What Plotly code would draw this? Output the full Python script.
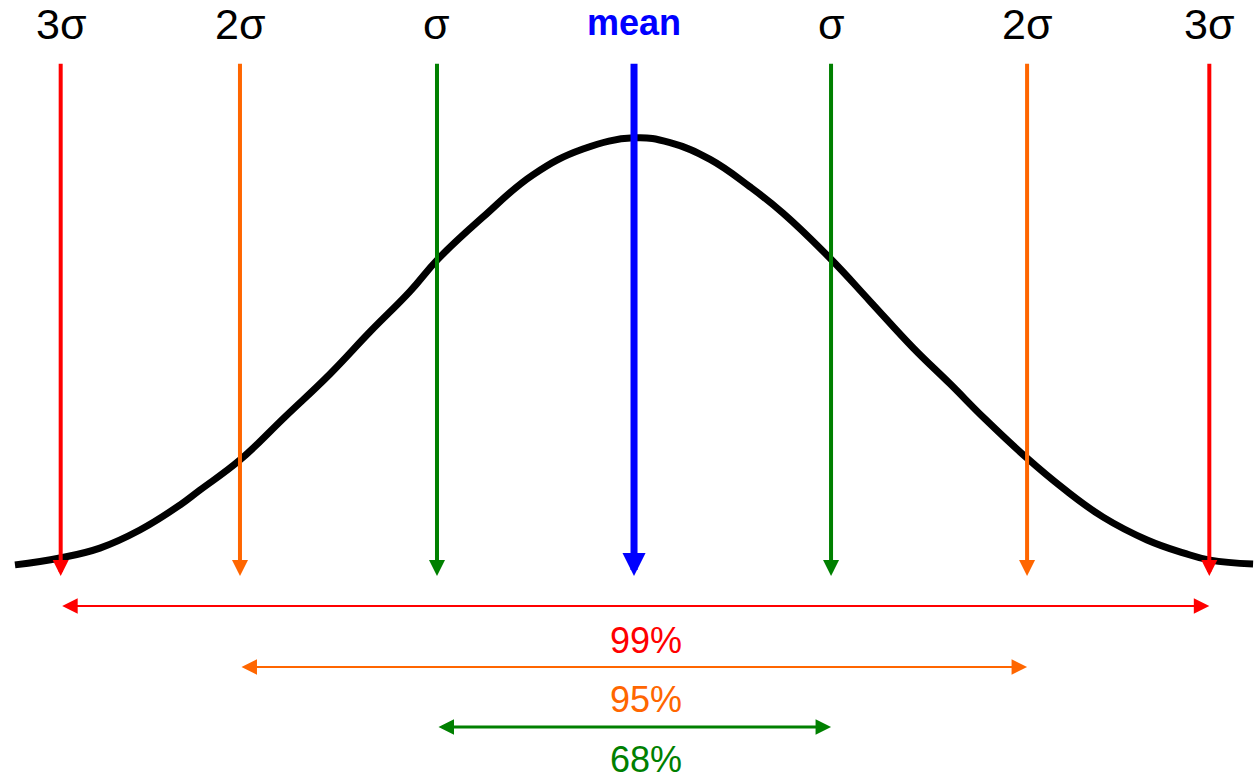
import plotly.graph_objects as go

# Bell curve (x in sigma units, y = relative height, peak ~1)
curve_x = [-3.142, -2.914, -2.711, -2.508, -2.305, -2.203, -2.0, -1.772, -1.543, -1.340,
           -1.137, -0.995, -0.766, -0.513, -0.259, 0.0, 0.183, 0.386, 0.589, 0.756,
           0.995, 1.198, 1.416, 1.604, 1.782, 1.995, 2.178, 2.381, 2.604, 2.787,
           2.924, 3.142]
curve_y = [0.005, 0.021, 0.044, 0.086, 0.144, 0.179, 0.249, 0.349, 0.449, 0.547,
           0.641, 0.716, 0.814, 0.912, 0.972, 0.998, 0.987, 0.948, 0.884, 0.823,
           0.718, 0.618, 0.510, 0.426, 0.344, 0.253, 0.183, 0.116, 0.063, 0.033,
           0.016, 0.007]

# Vertical marker arrows
marker_x = [-2.91, -2.0, -1.0, 0.0, 1.0, 1.995, 2.92]
marker_labels = ["3σ", "2σ", "σ", "mean", "σ", "2σ", "3σ"]
marker_colors = ["#FF0000", "#FF6600", "#008000", "#0000FF", "#008000", "#FF6600", "#FF0000"]

# Coverage ranges
range_left = [-2.91, -2.0, -1.0]
range_right = [2.92, 1.995, 1.0]
range_labels = ["99%", "95%", "68%"]
range_colors = ["#FF0000", "#FF6600", "#008000"]

FONT = "Liberation Sans, Arial, Helvetica, sans-serif"

fig = go.Figure()
fig.add_trace(go.Scatter(x=curve_x, y=curve_y, mode="lines",
                         line=dict(color="black", width=7, shape="spline", smoothing=1.2),
                         hoverinfo="skip", showlegend=False))

annotations = []
arrow_top = 1.174
arrow_tip = -0.021
label_y = 1.263
for x, lab, col in zip(marker_x, marker_labels, marker_colors):
    is_mean = lab == "mean"
    w = 7 if is_mean else 4
    annotations.append(dict(x=x, y=arrow_tip, ax=x, ay=arrow_top, xref="x", yref="y",
                            axref="x", ayref="y", text="", showarrow=True,
                            arrowhead=2, arrowwidth=w,
                            arrowsize=(0.66 if is_mean else 0.8),
                            arrowcolor=col, standoff=0, startstandoff=0))
    annotations.append(dict(x=x, y=(1.266 if is_mean else label_y), xref="x", yref="y",
                            text=(f"<b>{lab}</b>" if is_mean else lab),
                            showarrow=False, xanchor="center", yanchor="middle",
                            font=dict(family=FONT, size=(36 if is_mean else 43),
                                      color=(col if is_mean else "black"))))

range_y = [-0.0907, -0.2326, -0.372]
range_text_y = [-0.170, -0.309, -0.447]
range_w = [2, 2, 3]
for l, r, lab, col, yy, ty, w in zip(range_left, range_right, range_labels, range_colors,
                                     range_y, range_text_y, range_w):
    annotations.append(dict(x=r, y=yy, ax=l, ay=yy, xref="x", yref="y", axref="x", ayref="y",
                            text="", showarrow=True, arrowhead=2, arrowside="end+start",
                            arrowwidth=w, arrowsize=(3.1 / w), arrowcolor=col,
                            standoff=0, startstandoff=0))
    annotations.append(dict(x=0.06, y=ty, xref="x", yref="y", text=lab, showarrow=False,
                            xanchor="center", yanchor="middle",
                            font=dict(family=FONT, size=36, color=col)))

fig.update_layout(
    width=1257, height=779,
    margin=dict(l=0, r=0, t=0, b=0),
    paper_bgcolor="white", plot_bgcolor="white",
    xaxis=dict(range=[-3.218, 3.162], visible=False, fixedrange=True),
    yaxis=dict(range=[-0.493, 1.3186], visible=False, fixedrange=True),
    annotations=annotations,
    showlegend=False,
)
fig.write_html("out.html", config={"displayModeBar": False},
               post_script="document.body.style.margin='0';document.body.style.overflow='hidden';")
